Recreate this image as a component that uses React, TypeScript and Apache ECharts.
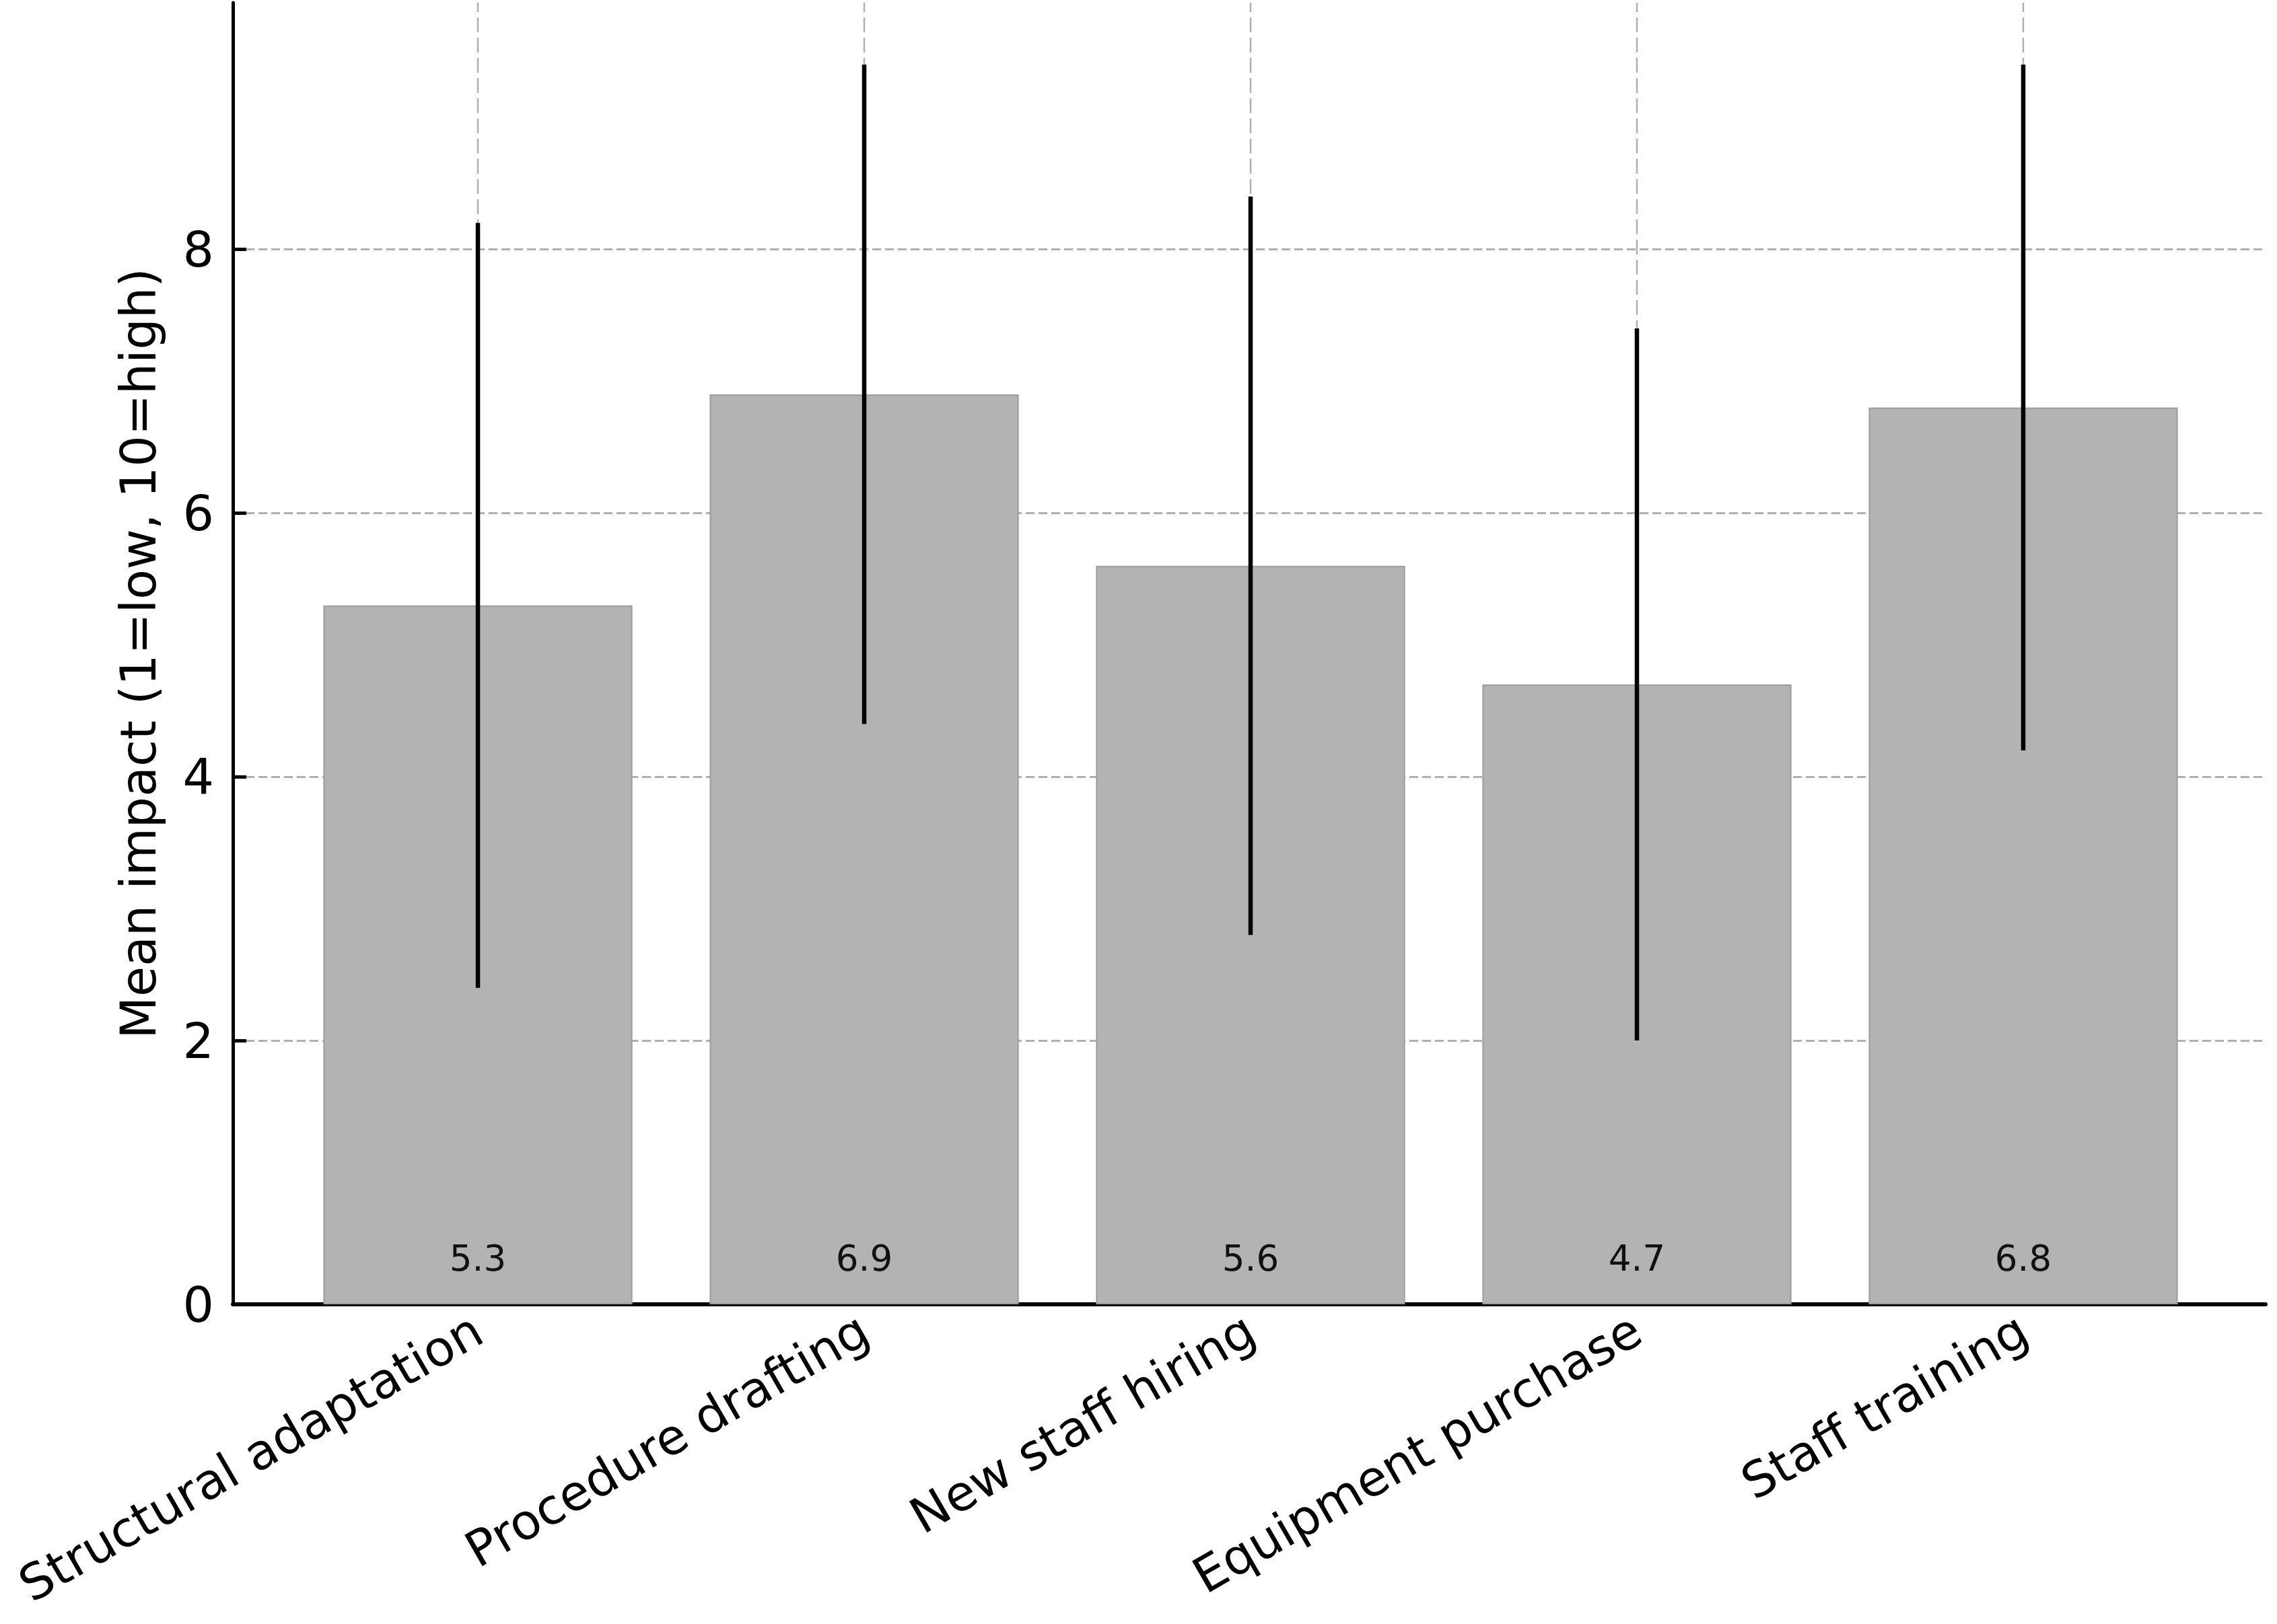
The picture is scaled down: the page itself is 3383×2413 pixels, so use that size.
import React, { useEffect, useRef } from "react";
import * as echarts from "echarts";

const categories = [
  "Structural adaptation",
  "Procedure drafting",
  "New staff hiring",
  "Equipment purchase",
  "Staff training",
];
const means = [5.3, 6.9, 5.6, 4.7, 6.8];
const errors = [2.9, 2.5, 2.8, 2.7, 2.6];
const yTicks = [0, 2, 4, 6, 8];
const yMax = 9.87;
const yName = "Mean impact (1=low, 10=high)";

const FONT = "DejaVu Sans";

export default function App() {
  const ref = useRef<HTMLDivElement>(null);
  useEffect(() => {
    document.body.style.margin = "0";
    if (!ref.current) return;
    const chart = echarts.init(ref.current, null, { renderer: "svg" });
    const errData = means.map((m, i) => [i, m - errors[i], m + errors[i]]);
    const gridData = categories.map((_, i) => [i, 0, yMax]);
    const option: any = {
      animation: false,
      backgroundColor: "#ffffff",
      grid: [
        { left: 346, right: 17, top: 4, bottom: 475, containLabel: false },
        { left: 423, right: 90, top: 4, bottom: 475, containLabel: false },
      ],
      xAxis: [
        {
          type: "value",
          gridIndex: 0,
          min: 0,
          max: 1,
          axisLine: { show: true, onZero: false, lineStyle: { color: "#000", width: 6 } },
          axisTick: { show: false },
          axisLabel: { show: false },
          splitLine: { show: false },
        },
        {
          type: "category",
          gridIndex: 1,
          data: categories,
          boundaryGap: true,
          axisLine: { show: false },
          axisTick: {
            show: true,
            inside: true,
            alignWithLabel: true,
            length: 22,
            lineStyle: { color: "#000", width: 3 },
          },
          axisLabel: {
            rotate: 30,
            interval: 0,
            margin: 32,
            fontSize: 73,
            fontFamily: FONT,
            color: "#000",
          },
          splitLine: { show: false },
        },
      ],
      yAxis: [
        {
          type: "value",
          gridIndex: 0,
          min: 0,
          max: yMax,
          interval: 2,
          name: yName,
          nameLocation: "middle",
          nameGap: 104,
          nameTextStyle: { fontSize: 73, fontFamily: FONT, color: "#000" },
          axisLine: { show: true, lineStyle: { color: "#000", width: 5 } },
          axisTick: {
            show: true,
            inside: true,
            length: 20,
            customValues: yTicks,
            lineStyle: { color: "#000", width: 5 },
          },
          axisLabel: {
            margin: 28,
            fontSize: 73,
            fontFamily: FONT,
            color: "#000",
            customValues: yTicks,
            formatter: (v: number) => (yTicks.indexOf(v) >= 0 ? String(v) : ""),
          },
          splitLine: {
            show: true,
            showMinLine: false,
            lineStyle: { type: [13, 6], color: "#b0b0b0", width: 3 },
          },
        },
        {
          type: "value",
          gridIndex: 1,
          min: 0,
          max: yMax,
          show: false,
          splitLine: { show: false },
        },
      ],
      series: [
        {
          type: "custom",
          xAxisIndex: 1,
          yAxisIndex: 1,
          z: 1,
          silent: true,
          data: gridData,
          renderItem: (params: any, api: any) => {
            const a = api.coord([api.value(0), api.value(1)]);
            const b = api.coord([api.value(0), api.value(2)]);
            return {
              type: "line",
              shape: { x1: a[0], y1: a[1], x2: b[0], y2: b[1] },
              style: { stroke: "#b0b0b0", lineWidth: 2.5, lineDash: [22, 8] },
            };
          },
        },
        {
          type: "bar",
          xAxisIndex: 1,
          yAxisIndex: 1,
          data: means,
          barWidth: "80%",
          z: 2,
          itemStyle: { color: "#b3b3b3", borderColor: "#9c9c9c", borderWidth: 2 },
          label: {
            show: true,
            position: "insideBottom",
            distance: 42,
            fontSize: 53,
            fontFamily: FONT,
            color: "#111",
            formatter: (p: any) => p.value.toFixed(1),
          },
        },
        {
          type: "custom",
          xAxisIndex: 1,
          yAxisIndex: 1,
          z: 10,
          data: errData,
          renderItem: (params: any, api: any) => {
            const lo = api.coord([api.value(0), api.value(1)]);
            const hi = api.coord([api.value(0), api.value(2)]);
            return {
              type: "line",
              z2: 10,
              shape: { x1: lo[0], y1: lo[1], x2: hi[0], y2: hi[1] },
              style: { stroke: "#000", lineWidth: 6.5 },
            };
          },
        },
      ],
    };
    chart.setOption(option);
    return () => chart.dispose();
  }, []);
  return <div ref={ref} style={{ width: 3383, height: 2413 }} />;
}
